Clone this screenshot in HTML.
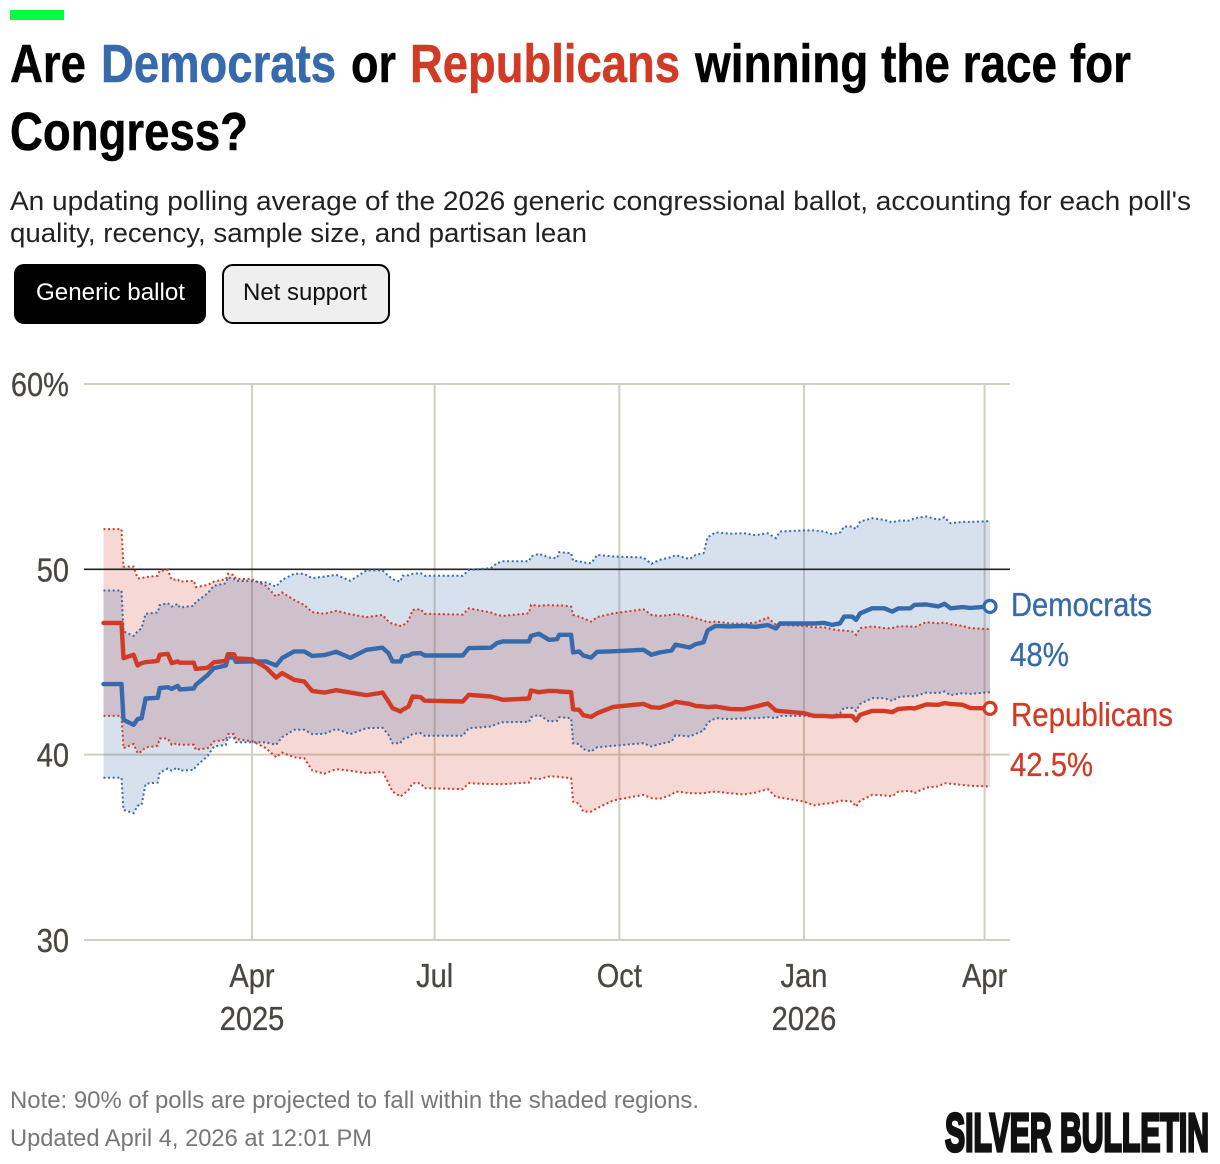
<!DOCTYPE html>
<html lang="en">
<head>
<meta charset="utf-8">
<title>Are Democrats or Republicans winning the race for Congress?</title>
<style>
html,body{margin:0;padding:0;background:#fff;}
svg{display:block;}
text{font-family:"Liberation Sans",Arial,sans-serif;}
.title{font-size:54px;font-weight:700;fill:#000;stroke-width:0.5px;stroke:currentColor;}
.sub{font-size:27px;fill:#222;}
.foot{font-size:24px;fill:#777;}
.btn{font-size:24px;}
.end{font-size:33px;stroke-width:0.3px;}
</style>
</head>
<body>
<svg id="page" xmlns="http://www.w3.org/2000/svg" width="1220" height="1164" viewBox="0 0 1220 1164">
  <rect x="10" y="10" width="54" height="10" fill="#00ff41"/>
  <g>
    <text class="title" x="10" y="82" textLength="76" lengthAdjust="spacingAndGlyphs" style="color:#000">Are</text>
    <text class="title" x="101" y="82" textLength="235" lengthAdjust="spacingAndGlyphs" style="fill:#366aac;color:#366aac">Democrats</text>
    <text class="title" x="351" y="82" textLength="45" lengthAdjust="spacingAndGlyphs" style="color:#000">or</text>
    <text class="title" x="410" y="82" textLength="270" lengthAdjust="spacingAndGlyphs" style="fill:#d13b26;color:#d13b26">Republicans</text>
    <text class="title" x="695" y="82" textLength="436" lengthAdjust="spacingAndGlyphs" style="color:#000">winning the race for</text>
    <text class="title" x="10" y="150" textLength="238" lengthAdjust="spacingAndGlyphs" style="color:#000">Congress?</text>
  </g>
  <g>
    <text class="sub" x="10" y="210" textLength="1181" lengthAdjust="spacingAndGlyphs">An updating polling average of the 2026 generic congressional ballot, accounting for each poll's</text>
    <text class="sub" x="10" y="242" textLength="577" lengthAdjust="spacingAndGlyphs">quality, recency, sample size, and partisan lean</text>
  </g>
  <g>
    <rect x="14" y="264" width="192" height="60" rx="10" fill="#000"/>
    <text class="btn" x="36" y="300" textLength="149" lengthAdjust="spacingAndGlyphs" fill="#fff">Generic ballot</text>
  </g>
  <g>
    <rect x="223" y="265" width="166" height="58" rx="10" fill="#efefef" stroke="#000" stroke-width="2"/>
    <text class="btn" x="243" y="300" textLength="124" lengthAdjust="spacingAndGlyphs" fill="#111">Net support</text>
  </g>
  <g id="chart"></g>
  <g>
    <text class="end" x="1011" y="616" textLength="141" lengthAdjust="spacingAndGlyphs" fill="#366aac" stroke="#366aac">Democrats</text>
    <text class="end" x="1010" y="666" textLength="59" lengthAdjust="spacingAndGlyphs" fill="#366aac" stroke="#366aac">48%</text>
    <text class="end" x="1011" y="726" textLength="162" lengthAdjust="spacingAndGlyphs" fill="#d13b26" stroke="#d13b26">Republicans</text>
    <text class="end" x="1010" y="776" textLength="83" lengthAdjust="spacingAndGlyphs" fill="#d13b26" stroke="#d13b26">42.5%</text>
  </g>
  <text class="foot" x="10" y="1108" textLength="689" lengthAdjust="spacingAndGlyphs">Note: 90% of polls are projected to fall within the shaded regions.</text>
  <text class="foot" x="10" y="1146" textLength="362" lengthAdjust="spacingAndGlyphs">Updated April 4, 2026 at 12:01 PM</text>
  <text x="945" y="1151" textLength="264" lengthAdjust="spacingAndGlyphs" style="font-size:54px;font-weight:700" fill="#111" stroke="#111" stroke-width="3.2">SILVER BULLETIN</text>
</svg>
<script>
// Days since 1 April 2025
const days = [-74,-65,-64,-59,-57,-55,-53,-47,-46,-42,-40,-37,-36,-29,-28,-22,-19,-13,-12,-9,-8,0,7,12,15,21,26,30,36,42,49,57,65,68,70,74,
75,78,80,84,86,105,108,119,122,125,138,139,143,148,152,153,159,160,163,165,169,172,180,195,199,203,209,211,218,221,225,227,231,
238,245,251,257,261,263,275,280,285,289,293,295,299,301,303,309,315,319,322,328,330,336,342,345,348,354,358,367.7];

const demMean = [43.81,43.81,41.88,41.61,41.92,41.97,43.03,43.07,43.59,43.64,43.55,43.71,43.52,43.57,43.77,44.31,44.67,44.81,45.24,45.24,45.01,45.03,45.03,44.81,45.21,45.57,45.57,45.33,45.37,45.55,45.22,45.66,45.77,45.48,45.03,45.03,
45.30,45.35,45.46,45.48,45.35,45.35,45.75,45.77,46.02,46.11,46.11,46.41,46.52,46.20,46.23,46.47,46.47,45.51,45.57,45.35,45.24,45.55,45.58,45.66,45.39,45.51,45.62,45.94,45.78,45.96,46.07,46.70,46.95,
46.92,46.95,46.90,46.99,46.81,47.08,47.08,47.08,47.11,47.00,47.09,47.45,47.45,47.27,47.63,47.90,47.90,47.72,47.89,47.90,48.08,48.10,48.00,48.14,47.90,47.96,47.92,48.00];

const demHigh = [48.86,48.86,46.65,46.41,46.65,46.83,47.60,47.67,48.07,48.17,47.99,48.14,47.94,48.03,48.23,48.71,49.11,49.25,49.56,49.49,49.38,49.36,49.29,49.07,49.43,49.76,49.76,49.52,49.61,49.70,49.38,49.94,49.94,49.65,49.47,49.34,
49.65,49.68,49.76,49.79,49.65,49.65,49.97,50.06,50.33,50.44,50.44,50.69,50.84,50.64,50.60,50.93,50.87,50.46,50.44,50.37,50.33,50.78,50.69,50.64,50.30,50.51,50.66,50.77,50.55,50.78,50.87,51.73,52.00,
51.92,51.95,51.84,51.95,51.68,52.04,52.10,52.10,52.04,51.90,51.99,52.31,52.31,52.17,52.58,52.76,52.67,52.53,52.63,52.63,52.76,52.85,52.67,52.81,52.49,52.56,52.56,52.60];

const demLow = [38.75,38.75,37.02,36.84,37.24,37.29,38.43,38.50,39.04,39.25,39.14,39.31,39.14,39.18,39.36,39.94,40.44,40.53,40.94,40.89,40.67,40.67,40.66,40.53,40.94,41.34,41.34,41.11,41.12,41.39,41.11,41.43,41.45,41.07,40.62,40.62,
40.84,40.94,41.12,41.16,41.02,41.02,41.43,41.52,41.66,41.75,41.77,42.02,42.15,41.79,41.83,42.02,41.97,40.62,40.57,40.30,40.17,40.39,40.48,40.62,40.44,40.57,40.71,41.05,40.98,41.12,41.30,41.73,41.97,
41.92,41.97,41.97,42.02,41.97,42.09,42.09,42.06,42.11,42.09,42.24,42.54,42.51,42.36,42.74,43.05,43.05,42.90,43.10,43.17,43.14,43.35,43.32,43.41,43.21,43.32,43.28,43.37];

const repMean = [47.11,47.11,45.21,45.39,44.81,44.94,44.99,45.06,45.39,45.44,44.94,45.03,44.96,44.96,44.63,44.69,44.99,45.06,45.42,45.42,45.19,45.15,44.70,44.16,44.40,44.04,43.95,43.44,43.35,43.48,43.35,43.21,43.35,42.87,42.51,42.33,
42.42,42.60,43.14,43.10,42.91,42.87,43.23,43.14,43.05,42.96,43.03,43.46,43.37,43.44,43.43,43.41,43.37,42.45,42.42,42.13,42.04,42.24,42.58,42.74,42.56,42.53,42.74,42.85,42.74,42.63,42.60,42.56,42.60,
42.47,42.45,42.60,42.76,42.38,42.35,42.24,42.09,42.09,42.06,42.09,42.09,42.09,41.84,42.15,42.36,42.36,42.29,42.47,42.51,42.49,42.71,42.69,42.78,42.74,42.69,42.51,42.50];

const repHigh = [52.17,52.17,50.15,50.15,49.52,49.52,49.58,49.65,49.92,49.97,49.43,49.47,49.34,49.38,49.04,49.16,49.34,49.47,49.76,49.70,49.49,49.47,49.11,48.53,48.75,48.35,48.08,47.69,47.60,47.76,47.58,47.42,47.54,47.18,47.06,46.95,
46.95,47.24,47.81,47.85,47.60,47.56,47.90,47.67,47.54,47.49,47.63,48.08,48.03,48.07,48.05,48.07,47.99,47.54,47.45,47.36,47.18,47.42,47.63,47.85,47.54,47.49,47.54,47.60,47.45,47.36,47.24,47.15,47.18,
47.09,47.06,47.13,47.40,47.00,47.00,46.95,46.88,46.88,46.77,46.70,46.70,46.65,46.47,46.83,46.92,46.83,46.83,46.92,46.92,46.88,47.15,47.09,47.13,47.04,46.95,46.83,46.77];

const repLow = [42.09,42.09,40.35,40.58,40.08,40.17,40.40,40.48,40.87,40.87,40.53,40.62,40.53,40.53,40.26,40.35,40.71,40.80,41.11,41.11,40.84,40.73,40.35,39.86,40.11,39.86,39.81,39.15,38.97,39.22,39.13,39.00,39.09,38.46,38.01,37.74,
37.83,38.10,38.46,38.46,38.19,38.14,38.46,38.41,38.41,38.41,38.50,38.73,38.68,38.82,38.82,38.79,38.73,37.47,37.35,36.93,36.93,37.11,37.53,37.83,37.65,37.62,37.83,38.01,37.92,37.92,37.92,37.96,38.01,
37.92,37.85,37.96,38.14,37.71,37.69,37.47,37.26,37.35,37.39,37.51,37.51,37.47,37.20,37.51,37.83,37.80,37.76,38.00,38.05,37.92,38.23,38.28,38.46,38.43,38.37,38.32,38.28];

const yTicks = [30,40,50,60];
const yTickLabels = ['30','40','50','60%'];
const xTickDays = [0,91,183,275,365];
const xTickMonths = ['Apr','Jul','Oct','Jan','Apr'];
const xTickYears = ['2025','','','2026',''];

const SVG_NS = 'http://www.w3.org/2000/svg';
const chart = document.getElementById('chart');
const xScale = d => 252 + d * (984.6 - 252) / 365;
const yScale = v => 940 - (v - 30) * (940 - 384) / 30;

function make(tag, attrs, parent) {
  const el = document.createElementNS(SVG_NS, tag);
  for (const k in attrs) el.setAttribute(k, attrs[k]);
  parent.appendChild(el);
  return el;
}
function linePoints(values) {
  return values.map((v, i) => xScale(days[i]).toFixed(1) + ',' + yScale(v).toFixed(1)).join(' ');
}
function bandPoints(hi, lo) {
  const lower = lo.map((v, i) => xScale(days[i]).toFixed(1) + ',' + yScale(v).toFixed(1)).reverse();
  return linePoints(hi) + ' ' + lower.join(' ');
}
function tickText(label, x, y, anchor, parent) {
  const t = make('text', {
    transform: 'translate(' + x + ',' + y + ') scale(0.88,1)',
    'text-anchor': anchor,
    'font-size': 33,
    fill: '#4a4640',
    stroke: '#4a4640',
    'stroke-width': 0.3
  }, parent);
  t.textContent = label;
  return t;
}

yTicks.forEach((tick, i) => {
  if (tick !== 50) {
    const g = make('line', {x1: 84, x2: 1010, y1: yScale(tick), y2: yScale(tick), stroke: '#d3cec4', 'stroke-width': 2}, chart);
    
    
  }
  const t = tickText(yTickLabels[i], 69, yScale(tick) + 12, 'end', chart);
  
  
});

xTickDays.forEach((tick, i) => {
  const g = make('line', {x1: xScale(tick), x2: xScale(tick), y1: 384, y2: 940, stroke: '#d3cec4', 'stroke-width': 2}, chart);
  
  
  const m = tickText(xTickMonths[i], xScale(tick), 987, 'middle', chart);
  
  
  if (xTickYears[i]) {
    const y = tickText(xTickYears[i], xScale(tick), 1030, 'middle', chart);
    
    
  }
});

const repBand = make('polygon', {points: bandPoints(repHigh, repLow), fill: '#d13b26', 'fill-opacity': 0.2}, chart);



const demBand = make('polygon', {points: bandPoints(demHigh, demLow), fill: '#366aac', 'fill-opacity': 0.2}, chart);



const fifty = make('line', {x1: 84, x2: 1010, y1: yScale(50), y2: yScale(50), stroke: '#222', 'stroke-width': 1.6}, chart);



const dotted = {fill: 'none', 'stroke-width': 2, 'stroke-dasharray': '2 2.6'};
const solid = {fill: 'none', 'stroke-width': 4.4, 'stroke-linejoin': 'round', 'stroke-linecap': 'round'};

const repHighLine = make('polyline', Object.assign({points: linePoints(repHigh), stroke: '#d13b26'}, dotted), chart);


const repLowLine = make('polyline', Object.assign({points: linePoints(repLow), stroke: '#d13b26'}, dotted), chart);


const demHighLine = make('polyline', Object.assign({points: linePoints(demHigh), stroke: '#366aac'}, dotted), chart);


const demLowLine = make('polyline', Object.assign({points: linePoints(demLow), stroke: '#366aac'}, dotted), chart);



const demLine = make('polyline', Object.assign({points: linePoints(demMean), stroke: '#366aac'}, solid), chart);


const repLine = make('polyline', Object.assign({points: linePoints(repMean), stroke: '#d13b26'}, solid), chart);



const lastDay = days[days.length - 1];
const demDot = make('circle', {cx: xScale(lastDay), cy: yScale(demMean[demMean.length - 1]), r: 6, fill: '#fff', stroke: '#366aac', 'stroke-width': 3.2}, chart);


const repDot = make('circle', {cx: xScale(lastDay), cy: yScale(repMean[repMean.length - 1]), r: 6, fill: '#fff', stroke: '#d13b26', 'stroke-width': 3.2}, chart);


</script>
</body>
</html>
